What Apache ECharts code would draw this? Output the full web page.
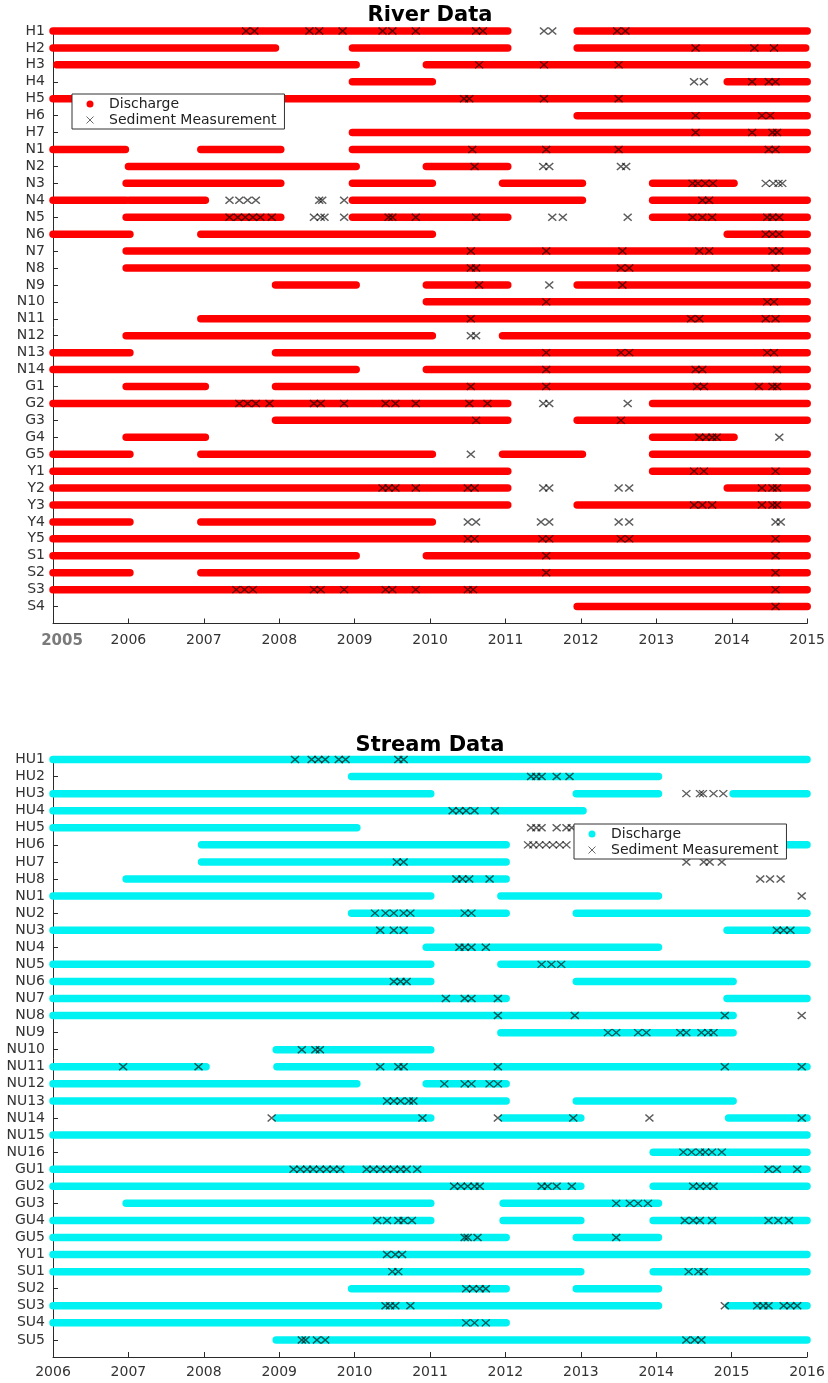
<!DOCTYPE html>
<html>
<head>
<meta charset="utf-8">
<script src="https://cdn.jsdelivr.net/npm/echarts@6/dist/echarts.min.js"></script>
<style>
html,body{margin:0;padding:0;background:#fff;}
#chart{width:828px;height:1383px;}
</style>
</head>
<body>
<div id="chart"></div>
<script>
// ---------------- River data (top chart) ----------------
const riverYears = [2005, 2015];
const riverRows = ['H1','H2','H3','H4','H5','H6','H7','N1','N2','N3','N4','N5','N6','N7','N8','N9','N10','N11','N12','N13','N14','G1','G2','G3','G4','G5','Y1','Y2','Y3','Y4','Y5','S1','S2','S3','S4'];
const riverDischarge = [
  [[2005,2011.03],[2011.95,2015]],
  [[2005,2007.95],[2008.97,2011.03],[2011.95,2014.98]],
  [[2005.05,2009.02],[2009.95,2015]],
  [[2008.97,2010.03],[2013.94,2015]],
  [[2005,2015]],
  [[2011.95,2015]],
  [[2008.97,2015]],
  [[2005,2005.96],[2006.96,2008.02],[2008.97,2015]],
  [[2006,2009.02],[2009.95,2011.03]],
  [[2005.97,2008.02],[2008.97,2010.03],[2010.96,2012.02],[2012.95,2014.03]],
  [[2005,2005.97],[2006.01,2007.02],[2008.97,2012.02],[2012.95,2015]],
  [[2005.97,2008.02],[2008.97,2011.03],[2012.95,2015]],
  [[2005,2006.02],[2006.96,2010.03],[2013.94,2015]],
  [[2005.97,2015]],
  [[2005.97,2015]],
  [[2007.95,2009.02],[2009.95,2011.03],[2011.95,2015]],
  [[2009.95,2015]],
  [[2006.96,2015]],
  [[2005.97,2010.03],[2010.96,2015]],
  [[2005,2006.02],[2007.95,2015]],
  [[2005,2009.02],[2009.95,2015]],
  [[2005.97,2007.02],[2007.95,2015]],
  [[2005,2011.03],[2012.95,2015]],
  [[2007.95,2011.03],[2011.95,2015]],
  [[2005.97,2007.02],[2012.95,2014.03]],
  [[2005,2006.02],[2006.96,2010.03],[2010.96,2012.02],[2012.95,2015]],
  [[2005,2011.03],[2012.95,2015]],
  [[2005,2011.03],[2013.94,2015]],
  [[2005,2011.03],[2011.95,2015]],
  [[2005,2006.02],[2006.96,2010.03]],
  [[2005,2015]],
  [[2005,2009.02],[2009.95,2015]],
  [[2005,2006.02],[2006.96,2015]],
  [[2005,2015]],
  [[2011.95,2015]]
];
const riverSediment = [
  [2007.56,2007.67,2008.4,2008.53,2008.84,2009.37,2009.5,2009.81,2010.61,2010.7,2011.51,2011.62,2012.48,2012.59],
  [2013.52,2014.3,2014.56],
  [2010.65,2011.51,2012.5],
  [2013.5,2013.63,2014.27,2014.49,2014.58],
  [2010.45,2010.52,2011.51,2012.5],
  [2013.52,2014.4,2014.51],
  [2013.52,2014.27,2014.54,2014.6],
  [2010.56,2011.54,2012.5,2014.49,2014.58],
  [2010.59,2011.5,2011.58,2012.53,2012.6],
  [2013.48,2013.55,2013.65,2013.75,2014.45,2014.55,2014.62,2014.67],
  [2007.34,2007.47,2007.58,2007.69,2008.53,2008.57,2008.86,2013.61,2013.7],
  [2007.34,2007.45,2007.55,2007.65,2007.75,2007.9,2008.46,2008.55,2008.6,2008.86,2009.45,2009.5,2009.81,2010.61,2011.62,2011.76,2012.62,2013.48,2013.61,2013.74,2014.47,2014.54,2014.63],
  [2014.45,2014.54,2014.63],
  [2010.54,2011.54,2012.55,2013.57,2013.7,2014.54,2014.63],
  [2010.54,2010.61,2012.53,2012.64,2014.58],
  [2010.65,2011.58,2012.55],
  [2011.54,2014.47,2014.56],
  [2010.54,2013.46,2013.57,2014.45,2014.58],
  [2010.54,2010.61],
  [2011.54,2012.53,2012.64,2014.47,2014.56],
  [2011.54,2013.52,2013.61,2014.6],
  [2010.54,2011.54,2013.54,2013.63,2014.36,2014.54,2014.6],
  [2007.47,2007.58,2007.69,2007.87,2008.46,2008.55,2008.86,2009.41,2009.54,2009.81,2010.52,2010.76,2011.5,2011.58,2012.62],
  [2010.61,2012.53],
  [2013.57,2013.66,2013.74,2013.8,2014.63],
  [2010.54],
  [2013.5,2013.63,2014.58],
  [2009.37,2009.45,2009.54,2009.81,2010.5,2010.59,2011.5,2011.58,2012.5,2012.64,2014.4,2014.54,2014.6],
  [2013.5,2013.61,2013.74,2014.4,2014.54,2014.6],
  [2010.5,2010.61,2011.47,2011.58,2012.5,2012.64,2014.58,2014.65],
  [2010.5,2010.59,2011.49,2011.58,2012.53,2012.64,2014.58],
  [2011.54,2014.58],
  [2011.54,2014.58],
  [2007.43,2007.54,2007.65,2008.46,2008.55,2008.86,2009.41,2009.5,2009.81,2010.5,2010.57,2014.58],
  [2014.58]
];

// ---------------- Stream data (bottom chart) ----------------
const streamYears = [2006, 2016];
const streamRows = ['HU1','HU2','HU3','HU4','HU5','HU6','HU7','HU8','NU1','NU2','NU3','NU4','NU5','NU6','NU7','NU8','NU9','NU10','NU11','NU12','NU13','NU14','NU15','NU16','GU1','GU2','GU3','GU4','GU5','YU1','SU1','SU2','SU3','SU4','SU5'];
const streamDischarge = [
  [[2006,2016]],
  [[2009.96,2014.03]],
  [[2006,2011.01],[2012.94,2014.03],[2015.02,2016]],
  [[2006,2013.03]],
  [[2006,2010.03]],
  [[2007.97,2012.01],[2015.0,2016]],
  [[2007.97,2012.01]],
  [[2006.97,2012.01]],
  [[2006,2011.01],[2011.94,2014.03]],
  [[2009.96,2012.01],[2012.94,2016]],
  [[2006,2011.01],[2014.94,2016]],
  [[2010.95,2014.03]],
  [[2006,2011.01],[2011.94,2016]],
  [[2006,2011.01],[2012.94,2015.02]],
  [[2006,2012.01],[2014.94,2016]],
  [[2006,2015.02]],
  [[2011.94,2015.02]],
  [[2008.96,2011.01]],
  [[2006,2008.03],[2008.97,2016]],
  [[2006,2010.03],[2010.95,2012.01]],
  [[2006,2012.01],[2012.94,2015.02]],
  [[2008.97,2011.01],[2011.97,2013.0],[2014.96,2016]],
  [[2006,2016]],
  [[2013.96,2016]],
  [[2006,2016]],
  [[2006,2013.0],[2013.96,2016]],
  [[2006.97,2011.01],[2011.97,2014.03]],
  [[2006,2011.01],[2011.97,2013.0],[2013.96,2016]],
  [[2006,2012.01],[2012.94,2014.03]],
  [[2006,2016]],
  [[2006,2013.0],[2013.96,2016]],
  [[2009.96,2012.01],[2012.94,2014.03]],
  [[2006,2014.03],[2014.96,2016]],
  [[2006,2012.01]],
  [[2008.96,2016]]
];
const streamSediment = [
  [2009.21,2009.43,2009.52,2009.61,2009.79,2009.88,2010.58,2010.65],
  [2012.34,2012.41,2012.48,2012.68,2012.85],
  [2014.4,2014.58,2014.62,2014.76,2014.89],
  [2011.3,2011.39,2011.48,2011.59,2011.86],
  [2012.34,2012.41,2012.48,2012.68,2012.81,2012.88],
  [2012.3,2012.37,2012.45,2012.54,2012.63,2012.72,2012.81],
  [2010.56,2010.65,2014.4,2014.63,2014.71,2014.87],
  [2011.35,2011.43,2011.52,2011.79,2015.38,2015.51,2015.65],
  [2015.93],
  [2010.27,2010.41,2010.52,2010.65,2010.74,2011.46,2011.55],
  [2010.34,2010.52,2010.65,2015.6,2015.69,2015.78],
  [2011.39,2011.46,2011.55,2011.74],
  [2012.48,2012.61,2012.74],
  [2010.52,2010.61,2010.69],
  [2011.21,2011.46,2011.55,2011.9],
  [2011.9,2012.92,2014.91,2015.93],
  [2013.36,2013.47,2013.76,2013.87,2014.32,2014.4,2014.6,2014.69,2014.76],
  [2009.3,2009.48,2009.54],
  [2006.93,2007.93,2010.34,2010.58,2010.65,2011.9,2014.91,2015.93],
  [2011.19,2011.46,2011.55,2011.79,2011.9],
  [2010.43,2010.52,2010.61,2010.72,2010.78],
  [2008.9,2010.9,2011.9,2012.9,2013.91,2015.93],
  [],
  [2014.36,2014.47,2014.58,2014.65,2014.74,2014.87],
  [2009.19,2009.28,2009.37,2009.45,2009.54,2009.63,2009.72,2009.81,2010.16,2010.25,2010.34,2010.43,2010.52,2010.61,2010.69,2010.83,2015.49,2015.6,2015.87],
  [2011.32,2011.41,2011.5,2011.59,2011.66,2012.48,2012.56,2012.68,2012.88,2014.49,2014.58,2014.67,2014.76],
  [2013.47,2013.65,2013.76,2013.89],
  [2010.3,2010.43,2010.58,2010.65,2010.76,2014.38,2014.49,2014.58,2014.74,2015.49,2015.62,2015.76],
  [2011.46,2011.5,2011.63,2013.47],
  [2010.43,2010.54,2010.63],
  [2010.5,2010.58,2014.43,2014.56,2014.63],
  [2011.48,2011.57,2011.66,2011.74],
  [2010.41,2010.47,2010.54,2010.74,2014.91,2015.34,2015.42,2015.49,2015.69,2015.78,2015.87],
  [2011.48,2011.59,2011.74],
  [2009.3,2009.35,2009.5,2009.61,2014.4,2014.51,2014.6]
];

// ---------------- build ----------------
const FONT = 'DejaVu Sans';
const RED = '#ff0000';
const CYAN = '#00f2f2';
const X_PATH = 'path://M0,0L10,10M10,0L0,10';

function toSegments(discharge) {
  const out = [];
  discharge.forEach((segs, i) => segs.forEach(s => out.push([s[0], s[1], i + 1])));
  return out;
}
function toPoints(sed) {
  const out = [];
  sed.forEach((xs, i) => xs.forEach(x => out.push([x, i + 1])));
  return out;
}
function barRenderer(color) {
  return function (params, api) {
    const a = api.coord([api.value(0), api.value(2)]);
    const b = api.coord([api.value(1), api.value(2)]);
    return {
      type: 'line',
      shape: { x1: a[0], y1: a[1], x2: b[0], y2: b[1] },
      style: { stroke: color, lineWidth: 7.5, lineCap: 'round' }
    };
  };
}
function xAxisOf(gridIndex, years, margin, firstGrey) {
  return {
    type: 'value', gridIndex: gridIndex, min: years[0], max: years[1], interval: 1,
    axisLine: { show: true, lineStyle: { color: '#2b2b2b', width: 1 } },
    axisTick: { show: true, inside: true, length: 5, lineStyle: { color: '#2b2b2b' } },
    axisLabel: {
      show: true, margin: margin, color: '#333', fontSize: 14, fontFamily: FONT,
      formatter: v => (firstGrey && v === years[0]) ? '{g|' + v + '}' : String(v),
      rich: { g: { color: '#7a7a7a', fontWeight: 'bold', fontSize: 15, fontFamily: FONT, padding: [0, 0, 0, 18] } }
    },
    splitLine: { show: false }
  };
}
function yAxisOf(gridIndex, rows) {
  return {
    type: 'value', gridIndex: gridIndex, min: 1, max: rows.length + 1, interval: 1, inverse: true,
    axisLine: { show: true, onZero: false, lineStyle: { color: '#2b2b2b', width: 1 } },
    axisTick: { show: true, inside: true, length: 5, lineStyle: { color: '#2b2b2b' } },
    axisLabel: { show: true, margin: 8, color: '#333', fontSize: 14, fontFamily: FONT, formatter: v => rows[v - 1] || '' },
    splitLine: { show: false }
  };
}
function legendOf(left, top, dischargeColor) {
  return {
    orient: 'vertical', left: left, top: top,
    itemWidth: 28, itemHeight: 7, itemGap: 0,
    padding: [2, 8, 1, 14],
    backgroundColor: '#fff', borderColor: '#333', borderWidth: 1,
    selectedMode: false,
    textStyle: { fontFamily: FONT, fontSize: 14, color: '#222', lineHeight: 16 },
    data: [
      { name: 'Discharge', icon: 'circle', itemStyle: { color: dischargeColor, borderWidth: 0 } },
      { name: 'Sediment Measurement', icon: X_PATH, itemStyle: { color: 'rgba(0,0,0,0)', borderColor: '#444', borderWidth: 1 } }
    ]
  };
}

const sedStyle = { color: 'rgba(0,0,0,0)', borderColor: 'rgba(0,0,0,0.8)', borderWidth: 1.4 };

const chart = echarts.init(document.getElementById('chart'), null, { renderer: 'canvas' });
chart.setOption({
  animation: false,
  backgroundColor: '#fff',
  textStyle: { fontFamily: FONT },
  title: [
    { text: 'River Data', left: 430, top: 5, textAlign: 'center', padding: 0,
      textStyle: { fontFamily: FONT, fontSize: 21, fontWeight: 'bold', color: '#000' } },
    { text: 'Stream Data', left: 430, top: 735, textAlign: 'center', padding: 0,
      textStyle: { fontFamily: FONT, fontSize: 21, fontWeight: 'bold', color: '#000' } }
  ],
  legend: [legendOf(72, 94, RED), legendOf(574, 824, CYAN)],
  grid: [
    { left: 53, top: 31, width: 755, height: 592.5, containLabel: false },
    { left: 53, top: 759.5, width: 754, height: 597.5, containLabel: false }
  ],
  xAxis: [xAxisOf(0, riverYears, 10, true), xAxisOf(1, streamYears, 8, false)],
  yAxis: [yAxisOf(0, riverRows), yAxisOf(1, streamRows)],
  series: [
    { name: 'Discharge', type: 'custom', xAxisIndex: 0, yAxisIndex: 0, z: 2,
      itemStyle: { color: RED }, encode: { x: [0, 1], y: 2 },
      renderItem: barRenderer(RED), data: toSegments(riverDischarge) },
    { name: 'Sediment Measurement', type: 'scatter', xAxisIndex: 0, yAxisIndex: 0, z: 3,
      symbol: X_PATH, symbolSize: [8, 7], itemStyle: sedStyle,
      data: toPoints(riverSediment) },
    { name: 'Discharge', type: 'custom', xAxisIndex: 1, yAxisIndex: 1, z: 2,
      itemStyle: { color: CYAN }, encode: { x: [0, 1], y: 2 },
      renderItem: barRenderer(CYAN), data: toSegments(streamDischarge) },
    { name: 'Sediment Measurement', type: 'scatter', xAxisIndex: 1, yAxisIndex: 1, z: 3,
      symbol: X_PATH, symbolSize: [8, 7], itemStyle: sedStyle,
      data: toPoints(streamSediment) }
  ]
});
</script>
</body>
</html>
